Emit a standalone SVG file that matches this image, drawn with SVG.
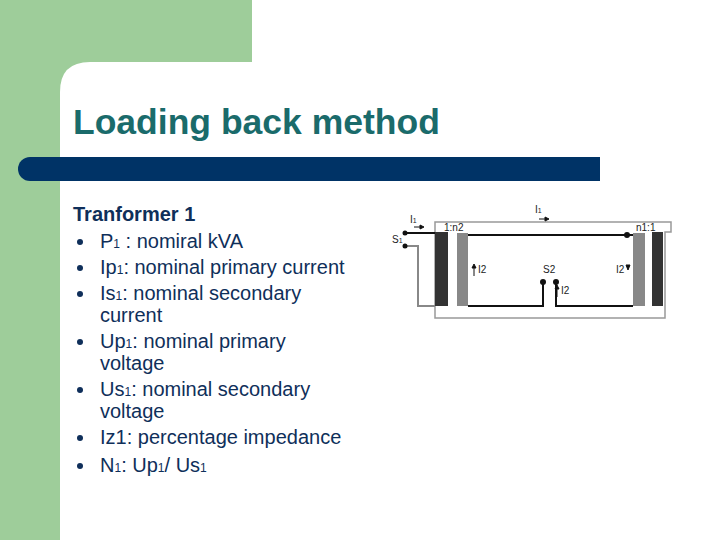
<svg xmlns="http://www.w3.org/2000/svg" width="720" height="540" viewBox="0 0 720 540">
<style>
text{font-family:"Liberation Sans",Arial,sans-serif;fill:#0f2f5a}
.b{font-size:20px}
.s{font-size:12px}
.c{font-size:10px;fill:#222}
.w{fill:none;stroke:#111;stroke-width:2}
.g{fill:none;stroke:#888;stroke-width:2}
</style>
<rect width="720" height="540" fill="#fff"/>
<rect width="252" height="540" fill="#9ecd9a"/>
<path d="M60 540V92Q60 62 90 62H720V540Z" fill="#fff"/>
<rect x="18" y="157" width="582" height="24" rx="12" fill="#003366"/>
<rect x="40" y="157" width="560" height="24" fill="#003366"/>
<text x="73" y="134" font-size="35.5" font-weight="bold" style="fill:#1a6b6b">Loading back method</text>
<text x="73" y="221" font-size="20" font-weight="bold">Tranformer 1</text>
<g fill="#0f2f5a"><circle cx="80" cy="242" r="3"/><circle cx="80" cy="268" r="3"/><circle cx="80" cy="294" r="3"/><circle cx="80" cy="342" r="3"/><circle cx="80" cy="390" r="3"/><circle cx="80" cy="438" r="3"/><circle cx="80" cy="466" r="3"/></g>
<text class="b" x="100" y="248">P<tspan class="s">1</tspan> : nomiral kVA</text>
<text class="b" x="100" y="274">Ip<tspan class="s">1</tspan>: nominal primary current</text>
<text class="b" x="100" y="300">Is<tspan class="s">1</tspan>: nominal secondary</text>
<text class="b" x="100" y="322">current</text>
<text class="b" x="100" y="348">Up<tspan class="s">1</tspan>: nominal primary</text>
<text class="b" x="100" y="370">voltage</text>
<text class="b" x="100" y="396">Us<tspan class="s">1</tspan>: nominal secondary</text>
<text class="b" x="100" y="418">voltage</text>
<text class="b" x="100" y="444">Iz1: percentage impedance</text>
<text class="b" x="100" y="472">N<tspan class="s">1</tspan>: Up<tspan class="s">1</tspan>/ Us<tspan class="s">1</tspan></text>
<g id="core"><path d="M435 222H671V232H665V318H435Z" fill="none" stroke="#999" stroke-width="1.5"/></g>
<g id="coils">
<rect x="435" y="232" width="13" height="74" fill="#333"/>
<rect x="457" y="233" width="11" height="73" fill="#888"/>
<rect x="633" y="233" width="12" height="73" fill="#888"/>
<rect x="652" y="232" width="11" height="74" fill="#333"/>
</g>
<g id="connectors">
<path class="w" d="M405 233H435"/>
<path class="g" d="M405 246H418V306H435"/>
<path class="w" d="M468 235H633"/>
<path class="w" d="M468 306H543V282"/>
<path class="w" d="M556 282V306H633"/>
<g fill="#111"><circle cx="405" cy="233" r="2.5"/><circle cx="405" cy="246" r="2.5"/><circle cx="627" cy="235" r="3"/><circle cx="543" cy="282" r="3"/><circle cx="556" cy="282" r="3"/></g>
<path d="M414 227H420M420 225L424 227L420 229Z" stroke="#111" fill="#111"/>
<path d="M539 219H545M545 217L549 219L545 221Z" stroke="#111" fill="#111"/>
<path d="M474 276V268M472 268L474 264L476 268Z" stroke="#111" fill="#111"/>
<path d="M557 297V289M555 289L557 285L559 289Z" stroke="#111" fill="#111"/>
<path d="M628 266L626 271H630Z" transform="rotate(180 628 268)" fill="#111" stroke="#111"/>
</g>
<text class="c" x="410" y="223">I<tspan font-size="7">1</tspan></text>
<text class="c" x="535" y="213">I<tspan font-size="7">1</tspan></text>
<text class="c" x="392" y="243">S<tspan font-size="7">1</tspan></text>
<text class="c" x="444" y="231">1:n2</text>
<text class="c" x="636" y="231">n1:1</text>
<text class="c" x="478" y="273">I2</text>
<text class="c" x="543" y="273">S2</text>
<text class="c" x="561" y="294">I2</text>
<text class="c" x="616" y="273">I2</text>
</svg>
